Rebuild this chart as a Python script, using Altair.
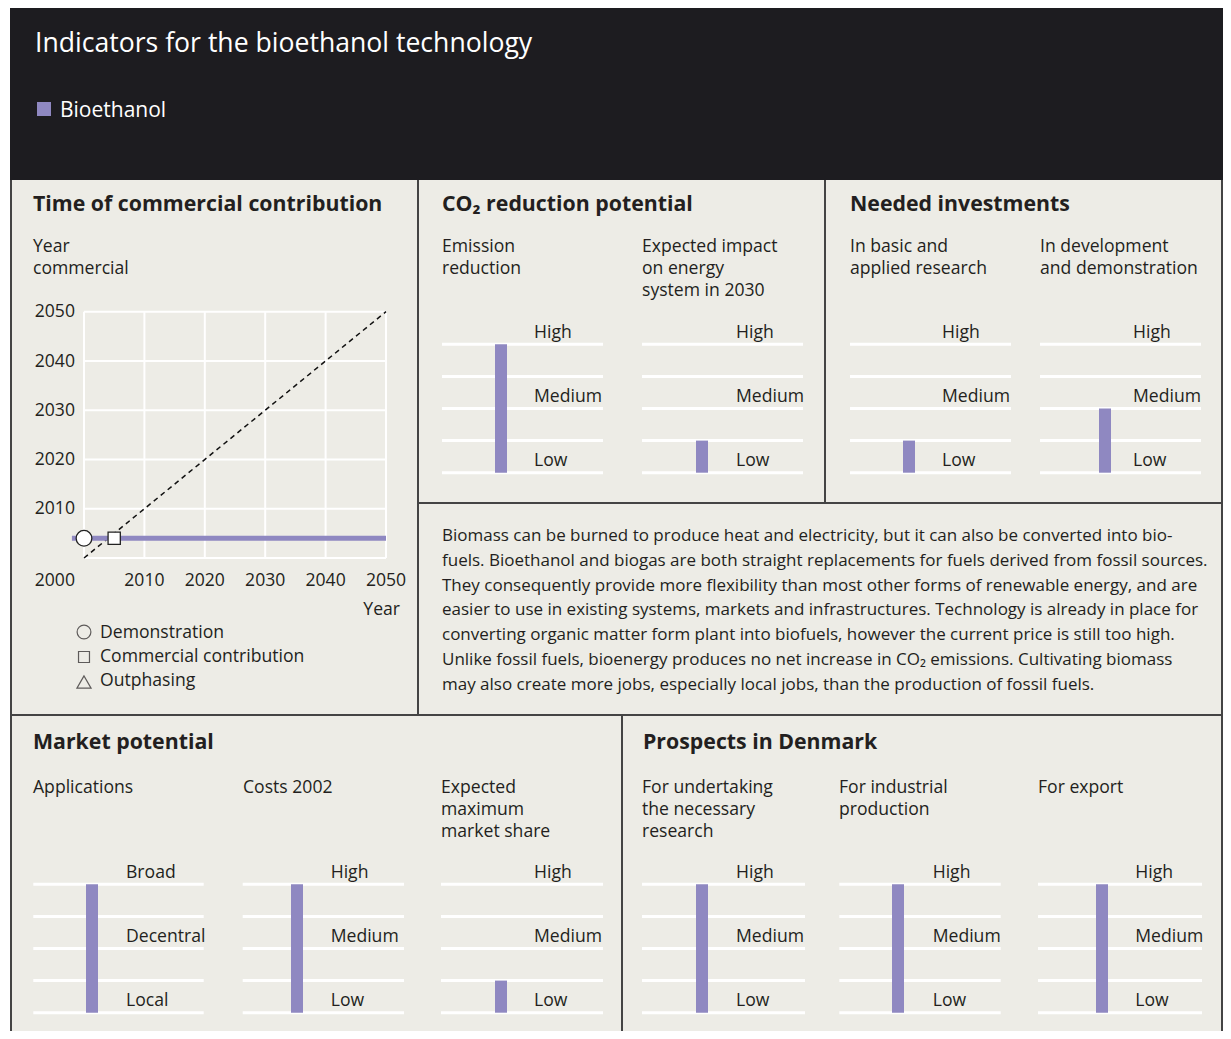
import altair as alt
import pandas as pd

# ---------------- data ----------------
header_title = "Indicators for the bioethanol technology"
series_name = "Bioethanol"

timeline_ticks = [2000, 2010, 2020, 2030, 2040, 2050]
demonstration_year = [2000]
commercial_year = [2005]
commercial_level = [2004]
bar_start = [1998]
bar_end = [2050]
legend_items = ["Demonstration", "Commercial contribution", "Outphasing"]

co2_indicators = ["Emission reduction", "Expected impact on energy system in 2030"]
co2_values = [4, 1]
invest_indicators = ["In basic and applied research", "In development and demonstration"]
invest_values = [1, 2]
market_indicators = ["Applications", "Costs 2002", "Expected maximum market share"]
market_values = [4, 4, 1]
prospect_indicators = ["For undertaking the necessary research", "For industrial production", "For export"]
prospect_values = [4, 4, 4]

level_labels = ["Low", "Medium", "High"]
application_labels = ["Local", "Decentral", "Broad"]

paragraph_lines = [
    "Biomass can be burned to produce heat and electricity, but it can also be converted into bio-",
    "fuels. Bioethanol and biogas are both straight replacements for fuels derived from fossil sources.",
    "They consequently provide more flexibility than most other forms of renewable energy, and are",
    "easier to use in existing systems, markets and infrastructures. Technology is already in place for",
    "converting organic matter form plant into biofuels, however the current price is still too high.",
    "Unlike fossil fuels, bioenergy produces no net increase in CO\u2082 emissions. Cultivating biomass",
    "may also create more jobs, especially local jobs, than the production of fossil fuels.",
]

# ---------------- style / layout ----------------
FONT = "Open Sans"
TXT = "#231f20"
BG = "#edece6"
DARK = "#1d1c20"
BORDER = "#444444"
PURPLE = "#8f88c1"
OX, OY = 8, 8
W, H = 1215, 1023
RIGHT = 1222  # page x of right border

PX = alt.Scale(domain=[0, W], range=[0, W], nice=False, zero=False)
PY = alt.Scale(domain=[0, H], range=[0, H], nice=False, zero=False)


def px(f):
    return alt.X(f, type="quantitative", scale=PX, axis=None)


def py(f):
    return alt.Y(f, type="quantitative", scale=PY, axis=None)


def shift(rows, cols):
    df = pd.DataFrame(rows, columns=cols)
    for c in cols:
        if c.startswith("x"):
            df[c] = df[c] - OX
        elif c.startswith("y"):
            df[c] = df[c] - OY
    return df


# backgrounds
rects = shift([[10, RIGHT + 1, 0, 180, DARK], [10, RIGHT + 1, 180, 1060, BG], [37, 51, 102, 116, PURPLE]],
              ["x", "x2", "y", "y2", "c"])
bg = alt.Chart(rects).mark_rect().encode(
    x=px("x"), x2="x2:Q", y=py("y"), y2="y2:Q", color=alt.Color("c:N", scale=None))

# borders
segs = shift([
    [11, 11, 180, 1060], [RIGHT, RIGHT, 180, 1060], [418, 418, 180, 715], [825, 825, 180, 503],
    [418, RIGHT, 503, 503], [11, RIGHT, 715, 715], [622, 622, 715, 1060],
], ["x", "x2", "y", "y2"])
borders = alt.Chart(segs).mark_rule(color=BORDER, strokeWidth=2).encode(
    x=px("x"), x2="x2:Q", y=py("y"), y2="y2:Q")


def texts(rows, size, weight="normal", color=TXT, align="left"):
    df = shift(rows, ["x", "y", "t"])
    return alt.Chart(df).mark_text(align=align, baseline="alphabetic", font=FONT, fontSize=size,
                                   fontWeight=weight, color=color).encode(
        x=px("x"), y=py("y"), text="t:N")


LBL = 17.6

header_txt = texts([[35, 52, header_title]], 26.6, color="white")
legend_txt = texts([[60, 117, series_name]], 21, color="white")

titles = texts([
    [33, 211, "Time of commercial contribution"],
    [442, 211, "CO\u2082 reduction potential"],
    [850, 211, "Needed investments"],
    [33, 749, "Market potential"],
    [643, 749, "Prospects in Denmark"],
], 21.3, weight="bold")

subs = texts([
    [33, 252, "Year"], [33, 274, "commercial"],
    [442, 252, "Emission"], [442, 274, "reduction"],
    [642, 252, "Expected impact"], [642, 274, "on energy"], [642, 296, "system in 2030"],
    [850, 252, "In basic and"], [850, 274, "applied research"],
    [1040, 252, "In development"], [1040, 274, "and demonstration"],
    [33, 793, "Applications"],
    [243, 793, "Costs 2002"],
    [441, 793, "Expected"], [441, 815, "maximum"], [441, 837, "market share"],
    [642, 793, "For undertaking"], [642, 815, "the necessary"], [642, 837, "research"],
    [839, 793, "For industrial"], [839, 815, "production"],
    [1038, 793, "For export"],
    [100, 638, legend_items[0]], [100, 662, legend_items[1]], [100, 686, legend_items[2]],
], LBL)

year_title = texts([[400, 615, "Year"]], LBL, align="right")

para = texts([[442, 541 + 24.8 * i, line] for i, line in enumerate(paragraph_lines)], 17)

leg_sym = []
for (yy, shp, sz) in [(632, "circle", 190), (657, "square", 120), (682, "triangle-up", 200)]:
    d = shift([[84, yy]], ["x", "y"])
    leg_sym.append(alt.Chart(d).mark_point(shape=shp, size=sz, color=TXT, strokeWidth=1.2, filled=False)
                   .encode(x=px("x"), y=py("y")))

decor = alt.layer(bg, borders, header_txt, legend_txt, titles, subs, year_title, para, *leg_sym)

# ---------------- time chart ----------------
LX = alt.Scale(domain=[2000, 2050], range=[84 - OX, 386 - OX], nice=False, zero=False)
LY = alt.Scale(domain=[2000, 2050], range=[558 - OY, 311.7 - OY], nice=False, zero=False)


def lx(f):
    return alt.X(f, type="quantitative", scale=LX, axis=None)


def ly(f):
    return alt.Y(f, type="quantitative", scale=LY, axis=None)


ticks_df = pd.DataFrame({"v": timeline_ticks, "lo": timeline_ticks[0], "hi": timeline_ticks[-1]})
gv = alt.Chart(ticks_df).mark_rule(color="white", strokeWidth=2).encode(x=lx("v"), y=ly("lo"), y2="hi:Q")
gh = alt.Chart(ticks_df).mark_rule(color="white", strokeWidth=2).encode(y=ly("v"), x=lx("lo"), x2="hi:Q")
diag = alt.Chart(pd.DataFrame({"a": [timeline_ticks[0], timeline_ticks[-1]]})).mark_line(
    color="#111", strokeWidth=1.5, strokeDash=[5, 4]).encode(x=lx("a"), y=ly("a"))
pbar = alt.Chart(pd.DataFrame({"s": bar_start, "e": bar_end, "lvl": commercial_level})).mark_rule(
    color=PURPLE, strokeWidth=5).encode(x=lx("s"), x2="e:Q", y=ly("lvl"))
demo = alt.Chart(pd.DataFrame({"x": demonstration_year, "y": commercial_level})).mark_point(
    shape="circle", size=246, filled=True, fill="white", stroke="#222", strokeWidth=1.3, opacity=1).encode(
    x=lx("x"), y=ly("y"))
comm = alt.Chart(pd.DataFrame({"x": commercial_year, "y": commercial_level})).mark_point(
    shape="square", size=150, filled=True, fill="white", stroke="#222", strokeWidth=1.3, opacity=1).encode(
    x=lx("x"), y=ly("y"))
lab_df = pd.DataFrame({"v": timeline_ticks[1:], "base": timeline_ticks[0]})
ylab = alt.Chart(lab_df).mark_text(align="right", baseline="alphabetic", dx=-9, dy=5.6, font=FONT,
                                   fontSize=LBL, color=TXT).encode(
    x=lx("base"), y=ly("v"), text=alt.Text("v:Q", format="d"))
xlab = alt.Chart(lab_df).mark_text(align="center", baseline="alphabetic", dy=28, font=FONT,
                                   fontSize=LBL, color=TXT).encode(
    x=lx("v"), y=ly("base"), text=alt.Text("v:Q", format="d"))
corner = alt.Chart(pd.DataFrame({"v": [timeline_ticks[0]]})).mark_text(
    align="right", baseline="alphabetic", dx=-9, dy=28, font=FONT, fontSize=LBL, color=TXT).encode(
    x=lx("v"), y=ly("v"), text=alt.Text("v:Q", format="d"))
time_chart = alt.layer(gh, gv, diag, pbar, demo, comm, ylab, xlab, corner)

# ---------------- mini level charts ----------------
# layout: (left, width, bar offset, label offset, baseline) in page pixels
mini_layout = [
    (442, 161, 53, 92, 472.7), (642, 161, 54, 94, 472.7),
    (850, 161, 53, 92, 472.7), (1040, 161, 59, 93, 472.7),
    (33.3, 170.4, 52.7, 92.7, 1012.7), (242.7, 161.3, 48.3, 88, 1012.7), (441, 162, 54, 93, 1012.7),
    (642, 163, 54, 94, 1012.7), (839.3, 161.4, 52.7, 93.4, 1012.7), (1038, 164, 58, 97.3, 1012.7),
]
mini_values = co2_values + invest_values + market_values + prospect_values
mini_names = co2_indicators + invest_indicators + market_indicators + prospect_indicators
mini_labels = [level_labels] * 4 + [application_labels] + [level_labels] * 5


def mini(layout, name, value, labels):
    left, width, boff, loff, base = layout
    xs = alt.Scale(domain=[0, width], range=[left - OX, left + width - OX], nice=False, zero=False)
    ys = alt.Scale(domain=[0, 4], range=[base - OY, base - OY - 128.4], nice=False, zero=False)
    g = pd.DataFrame({"lvl": [0, 1, 2, 3, 4], "a": 0.0, "b": width})
    grid = alt.Chart(g).mark_rule(color="white", strokeWidth=3).encode(
        x=alt.X("a:Q", scale=xs, axis=None), x2="b:Q", y=alt.Y("lvl:Q", scale=ys, axis=None))
    b = pd.DataFrame({"name": [name], "v": [value], "a": [boff], "b": [boff + 12], "z": [0]})
    bar = alt.Chart(b).mark_bar(color=PURPLE).encode(
        x=alt.X("a:Q", scale=xs, axis=None), x2="b:Q", y=alt.Y("v:Q", scale=ys, axis=None), y2="z:Q")
    t = pd.DataFrame({"lvl": [0, 2, 4], "t": labels, "x": loff})
    lab = alt.Chart(t).mark_text(align="left", baseline="alphabetic", dy=-6.5, font=FONT, fontSize=LBL,
                                 color=TXT).encode(
        x=alt.X("x:Q", scale=xs, axis=None), y=alt.Y("lvl:Q", scale=ys, axis=None), text="t:N")
    return alt.layer(grid, bar, lab)


minis = [mini(l, n, v, lb) for l, n, v, lb in zip(mini_layout, mini_names, mini_values, mini_labels)]

chart = alt.layer(decor, time_chart, *minis).resolve_scale(
    x="independent", y="independent").properties(
    width=W, height=H, padding=0, autosize=alt.AutoSizeParams(type="none"), background="white"
).configure_view(stroke=None)

chart.save("out.html", embed_options={"renderer": "svg", "actions": False})
